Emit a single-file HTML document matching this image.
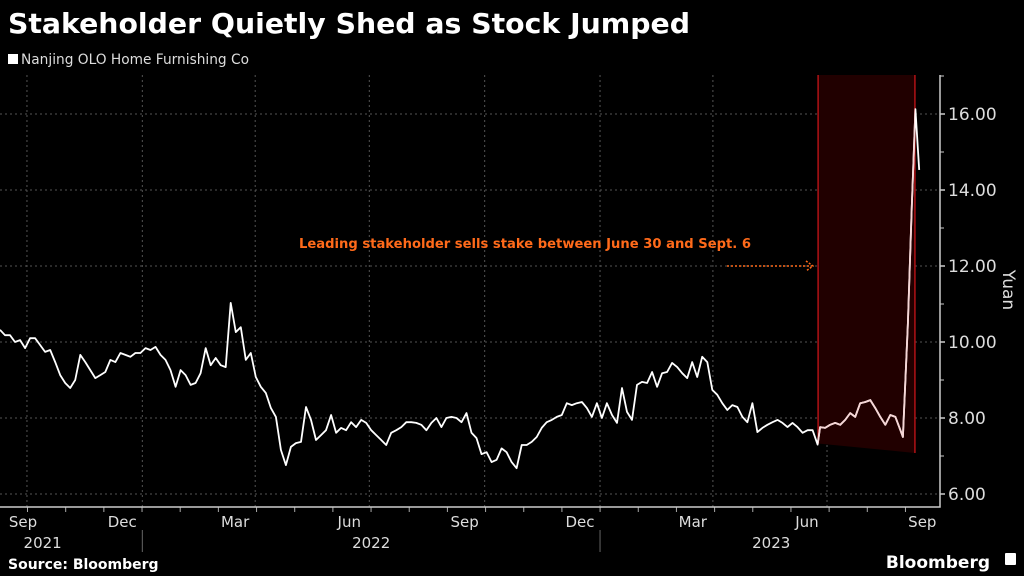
<!DOCTYPE html>
<html><head><meta charset="utf-8"><style>
html,body{margin:0;padding:0;background:#000;}
svg{display:block;font-family:"DejaVu Sans","Liberation Sans",sans-serif;}
</style></head><body>
<svg id="chart" width="1024" height="576" viewBox="0 0 1024 576">
<rect width="1024" height="576" fill="#000"/>
<text x="8" y="33" fill="#fff" font-weight="bold" font-size="28" textLength="682" lengthAdjust="spacingAndGlyphs">Stakeholder Quietly Shed as Stock Jumped</text>
<rect x="8" y="54" width="10" height="10" fill="#fff"/>
<text x="21" y="64" fill="#ddd" font-size="14" textLength="228" lengthAdjust="spacingAndGlyphs">Nanjing OLO Home Furnishing Co</text>
<g id="grid"></g>
<g id="shade"></g>
<g id="axes"></g>
<path id="line" fill="none" stroke="#fff" stroke-width="1.8" stroke-linejoin="round"/>
<clipPath id="shadeClip"><rect id="shadeClipRect" x="0" y="0" width="0" height="576"/></clipPath>
<path id="lineShade" fill="none" stroke="#f6d6d6" stroke-width="1.8" stroke-linejoin="round" clip-path="url(#shadeClip)"/>
<text x="525" y="248" fill="#ff6a1a" font-weight="bold" font-size="13" text-anchor="middle" textLength="452" lengthAdjust="spacingAndGlyphs">Leading stakeholder sells stake between June 30 and Sept. 6</text>
<line x1="727" y1="266" x2="812" y2="266" stroke="#ff6a1a" stroke-width="1.5" stroke-dasharray="2,2"/>
<path d="M806,261 L813,266 L806,271" fill="none" stroke="#ff6a1a" stroke-width="1.5" stroke-dasharray="2,1.5"/>
<text x="1003" y="290" fill="#ddd" font-size="17" text-anchor="middle" transform="rotate(90 1003 290)">Yuan</text>
<text x="8" y="569" fill="#fff" font-weight="bold" font-size="14">Source: Bloomberg</text>
<text x="990" y="568" fill="#fff" font-weight="bold" font-size="17" text-anchor="end">Bloomberg</text>
<rect x="1005" y="553" width="11" height="12" rx="1" fill="#fff"/>
</svg>
<script>
const dayStep = 4;
const mainValues = [10.32,10.18,10.18,10.0,10.05,9.84,10.1,10.1,9.92,9.74,9.79,9.47,9.13,8.92,8.79,9.0,9.66,9.47,9.26,9.05,9.13,9.21,9.53,9.47,9.71,9.66,9.61,9.71,9.71,9.84,9.79,9.87,9.66,9.53,9.26,8.82,9.26,9.13,8.87,8.92,9.18,9.84,9.39,9.58,9.39,9.34,11.03,10.26,10.39,9.53,9.71,9.08,8.82,8.66,8.26,8.03,7.16,6.76,7.24,7.34,7.37,8.29,7.95,7.42,7.55,7.68,8.08,7.61,7.74,7.68,7.89,7.76,7.95,7.87,7.68,7.55,7.42,7.29,7.61,7.68,7.76,7.89,7.89,7.87,7.82,7.68,7.87,8.0,7.76,8.0,8.03,8.0,7.89,8.13,7.61,7.47,7.05,7.1,6.84,6.9,7.2,7.1,6.84,6.68,7.29,7.29,7.37,7.5,7.74,7.89,7.95,8.03,8.08,8.39,8.34,8.39,8.42,8.26,8.03,8.39,8.0,8.39,8.08,7.87,8.79,8.16,7.95,8.87,8.95,8.92,9.21,8.82,9.18,9.21,9.45,9.34,9.18,9.05,9.47,9.08,9.61,9.47,8.74,8.61,8.39,8.21,8.34,8.29,8.03,7.89,8.39,7.63,7.74,7.82,7.89,7.95,7.87,7.76,7.87,7.76,7.61,7.68,7.68,7.3];
const tailDays = [654,658,662,666,670,674,678,682,686,690,694,698,702,706,710,714,718,720,724,727,730,733];
const tailValues = [7.76,7.74,7.82,7.87,7.82,7.95,8.13,8.03,8.39,8.42,8.47,8.26,8.03,7.82,8.08,8.03,7.68,7.5,10.5,13.5,16.13,14.53];
const gridDays = [21.5,113.5,203.5,294.5,386.5,478.5,568.5,659.5];
const monthLabels = ["Sep","Dec","Mar","Jun","Sep","Dec","Mar","Jun","Sep"];
const monthLabelDays = [5.5,97.5,187.5,278.5,370.5,462.5,552.5,643.5,735.5];
const yearLabels = ["2021","2022","2023"];
const yearLabelDays = [34,296,615];
const yearSepDays = [113.5,478.5];
const yTicks = [6,8,10,12,14,16];
const yTickLabels = ["6.00","8.00","10.00","12.00","14.00","16.00"];
const shadeStartDay = 652;
const shadeEndDay = 730;

const NS = "http://www.w3.org/2000/svg";
const X0 = 0, XPX = 1.254, AXR = 940, AXB = 507, TOP = 75;
const x = d => X0 + d * XPX;
const y = v => 418 - (v - 8) * 38;
function mk(tag, attrs, parent){const e=document.createElementNS(NS,tag);for(const k in attrs)e.setAttribute(k,attrs[k]);parent.appendChild(e);return e;}
const grid=document.getElementById('grid'), axes=document.getElementById('axes'), shade=document.getElementById('shade');

yTicks.forEach((v,i)=>{
  const g=mk('line',{x1:0,x2:AXR,y1:y(v),y2:y(v),stroke:'#555','stroke-width':1,'stroke-dasharray':'2,3'},grid);
  
  
  const t=mk('line',{x1:AXR,x2:AXR+5,y1:y(v),y2:y(v),stroke:'#ccc','stroke-width':1.5},axes);
  
  
  const m=mk('line',{x1:AXR,x2:AXR+4,y1:y(v+1),y2:y(v+1),stroke:'#ccc','stroke-width':1},axes);
  
  
  const l=mk('text',{x:AXR+8,y:y(v)+6,fill:'#ddd','font-size':17},axes);
  l.textContent=yTickLabels[i];
  
  
});
gridDays.forEach(d=>{
  const g=mk('line',{x1:x(d),x2:x(d),y1:TOP,y2:AXB,stroke:'#555','stroke-width':1,'stroke-dasharray':'2,3'},grid);
  
  
});
for(let d=-8.5; x(d)<AXR; d+=30.44){
  if(d<0) continue;
  const t=mk('line',{x1:x(d),x2:x(d),y1:AXB,y2:AXB+5,stroke:'#aaa','stroke-width':1},axes);
  
  
}
const ax=mk('path',{d:`M0,${AXB} H${AXR} V${TOP}`,fill:'none',stroke:'#ccc','stroke-width':1.5},axes);


monthLabels.forEach((m,i)=>{
  const t=mk('text',{x:Math.max(23,x(monthLabelDays[i])),y:527,fill:'#ddd','font-size':15,'text-anchor':'middle'},axes);
  t.textContent=m;
  
  
});
yearLabels.forEach((m,i)=>{
  const t=mk('text',{x:x(yearLabelDays[i]),y:548,fill:'#ddd','font-size':15,'text-anchor':'middle'},axes);
  t.textContent=m;
  
  
});
yearSepDays.forEach(d=>{
  const s=mk('line',{x1:x(d),x2:x(d),y1:530,y2:552,stroke:'#666','stroke-width':1},axes);
  
  
});
const sx0=x(shadeStartDay)+0.5, sx1=x(shadeEndDay)-0.5;
const sh=mk('path',{d:`M${sx0},${TOP} H${sx1} V${y(7.08)} L${sx0},${y(7.33)} Z`,fill:'#210000'},shade);


[sx0,sx1].forEach((sx,i)=>{
  const b=mk('line',{x1:sx,x2:sx,y1:TOP,y2:i?y(7.08):y(7.33),stroke:'#b01216','stroke-width':1.5},shade);
  
  
});
const cr=document.getElementById('shadeClipRect');
cr.setAttribute('x',sx0);
cr.setAttribute('width',sx1-sx0);
const pts=mainValues.map((v,i)=>[i*dayStep,v]).concat(tailDays.map((d,i)=>[d,tailValues[i]]));
const dStr=pts.map((p,i)=>(i?'L':'M')+x(p[0]).toFixed(1)+','+y(p[1]).toFixed(1)).join(' ');
document.getElementById('line').setAttribute('d',dStr);
document.getElementById('lineShade').setAttribute('d',dStr);
</script>
</body></html>
